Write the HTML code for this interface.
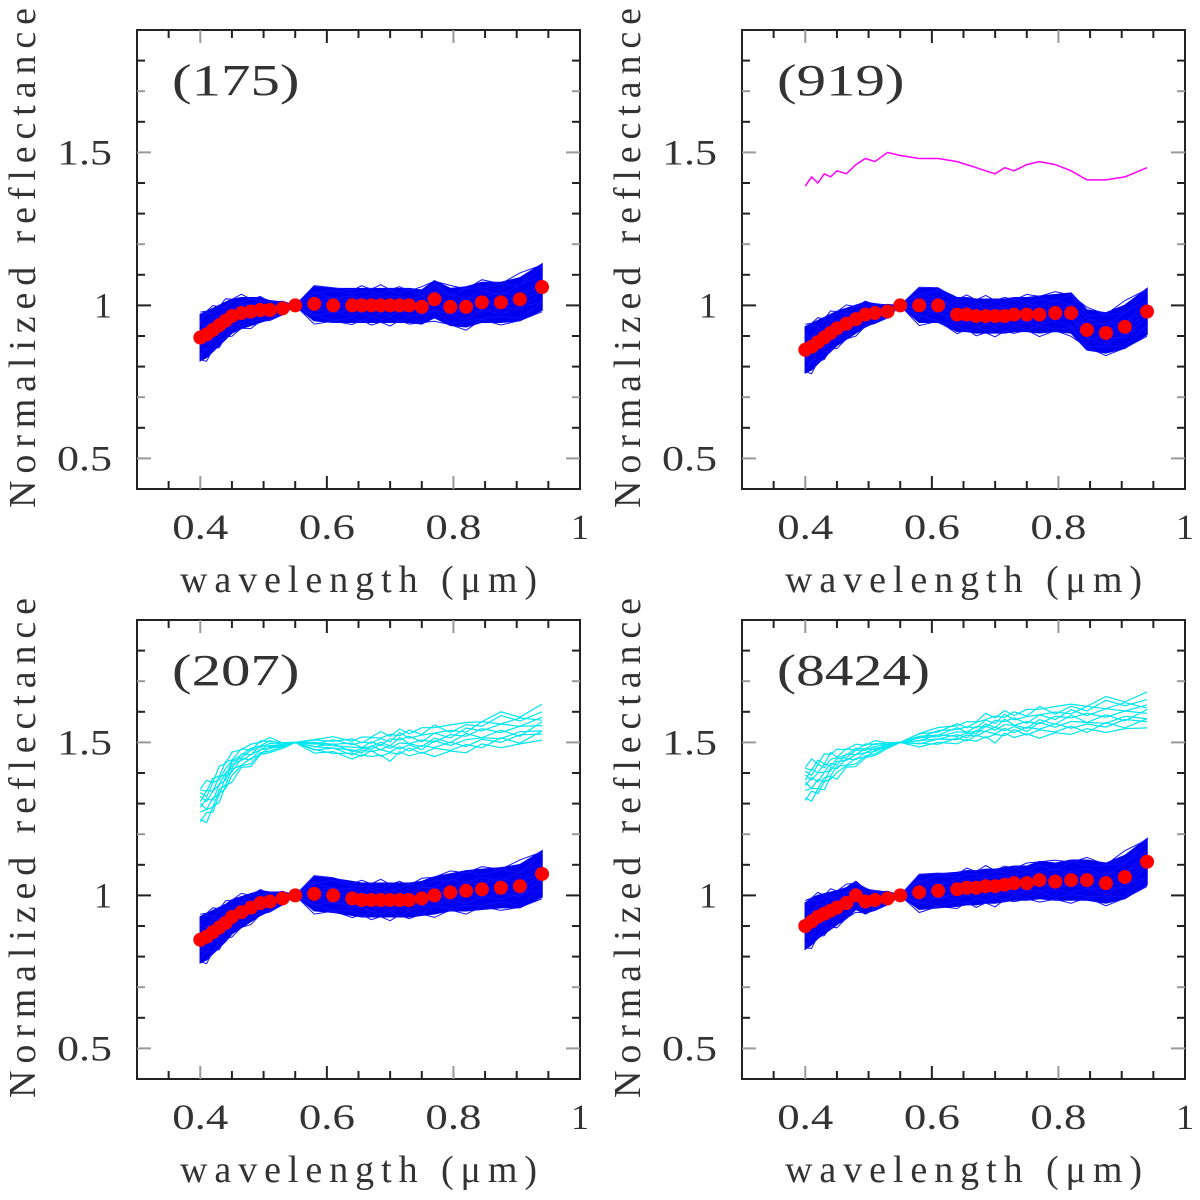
<!DOCTYPE html>
<html><head><meta charset="utf-8"><style>
html,body{margin:0;padding:0;background:#fff}
svg text{font-family:"Liberation Serif",serif;fill:#333}
</style></head><body>
<svg id="fig" width="1200" height="1195" viewBox="0 0 1200 1195" xmlns="http://www.w3.org/2000/svg"></svg>
<script>
const wavelengths=[0.40,0.41,0.42,0.43,0.44,0.45,0.465,0.48,0.495,0.51,0.53,0.55,0.58,0.61,0.64,0.655,0.67,0.685,0.70,0.715,0.73,0.75,0.77,0.795,0.82,0.845,0.875,0.905,0.94];
const mean175=[0.895,0.905,0.92,0.935,0.95,0.965,0.975,0.98,0.985,0.985,0.99,1.0,1.005,1.0,1.0,1.0,1.0,1.0,1.0,1.0,1.0,0.995,1.02,0.995,0.995,1.01,1.01,1.02,1.06];
const mean919=[0.855,0.865,0.88,0.895,0.91,0.925,0.94,0.955,0.97,0.975,0.98,1.0,1.0,1.0,0.97,0.97,0.965,0.965,0.965,0.965,0.97,0.97,0.97,0.975,0.975,0.92,0.91,0.93,0.98];
const mean207=[0.855,0.865,0.88,0.895,0.91,0.93,0.945,0.96,0.975,0.98,0.99,1.0,1.005,1.0,0.99,0.985,0.985,0.985,0.985,0.985,0.985,0.99,1.0,1.01,1.015,1.02,1.025,1.03,1.07];
const mean8424=[0.90,0.915,0.93,0.94,0.95,0.96,0.975,1.0,0.98,0.985,0.99,1.0,1.01,1.015,1.02,1.025,1.025,1.03,1.03,1.035,1.04,1.04,1.05,1.045,1.05,1.05,1.04,1.06,1.11];
const spread=[0.075,0.075,0.07,0.065,0.06,0.055,0.05,0.045,0.04,0.03,0.02,0.0,0.055,0.055,0.055,0.055,0.055,0.055,0.055,0.055,0.055,0.055,0.06,0.06,0.065,0.065,0.065,0.07,0.075];
const magenta919=[1.39,1.42,1.40,1.43,1.42,1.44,1.43,1.46,1.48,1.47,1.50,1.49,1.48,1.48,1.47,1.46,1.45,1.44,1.43,1.45,1.44,1.46,1.47,1.46,1.44,1.41,1.41,1.42,1.45];
const cyan207=[1.30,1.31,1.33,1.36,1.39,1.42,1.45,1.46,1.48,1.49,1.49,1.50,1.49,1.49,1.48,1.48,1.49,1.49,1.49,1.50,1.50,1.50,1.51,1.51,1.52,1.53,1.54,1.54,1.56];
const cyan8424=[1.37,1.38,1.39,1.40,1.42,1.43,1.45,1.46,1.47,1.48,1.49,1.50,1.51,1.52,1.53,1.53,1.54,1.55,1.55,1.56,1.56,1.56,1.57,1.57,1.58,1.58,1.59,1.59,1.60];
const cyanSpread=[0.06,0.06,0.055,0.05,0.045,0.04,0.035,0.03,0.025,0.02,0.01,0.0,0.02,0.025,0.03,0.03,0.03,0.035,0.04,0.04,0.04,0.04,0.045,0.045,0.045,0.05,0.05,0.05,0.05];
const lineOffsets=[-1,-0.75,-0.5,-0.3,-0.1,0.1,0.3,0.5,0.75,1];
const lineJitter=[0.3,-0.4,0.5,-0.2,0.6,-0.5,0.2,-0.6,0.4,-0.3,0.1,0,-0.5,0.4,-0.3,0.6,-0.4,0.2,-0.6,0.5,-0.2,0.4,-0.5,0.3,-0.4,0.6,-0.3,0.2,-0.1];
const xTicks=[0.4,0.6,0.8,1];
const xTickLabels=["0.4","0.6","0.8","1"];
const yTicks=[0.5,1,1.5];
const yTickLabels=["0.5","1","1.5"];
const panels=[
 {label:"(175)",dx:0,dy:0,mean:mean175,extra:null},
 {label:"(919)",dx:605,dy:0,mean:mean919,extra:"magenta"},
 {label:"(207)",dx:0,dy:590,mean:mean207,extra:"cyan207"},
 {label:"(8424)",dx:605,dy:590,mean:mean8424,extra:"cyan8424"}];
const NS="http://www.w3.org/2000/svg",svg=document.getElementById('fig');
function mk(t,a,p){const e=document.createElementNS(NS,t);for(const k in a)e.setAttribute(k,a[k]);(p||svg).appendChild(e);return e;}
panels.forEach((P,pi)=>{
 const g=mk('g',{});
 
 
 const L=137+P.dx,R=580+P.dx,T=30+P.dy,B=489+P.dy;
 const X=v=>L+(v-0.3)/0.7*(R-L), Y=v=>B-(v-0.4)/1.5*(B-T);
 const pts=arr=>arr.map((v,i)=>X(wavelengths[i]).toFixed(1)+','+Y(v).toFixed(1)).join(' ');
 const up=P.mean.map((v,i)=>v+spread[i]), lo=P.mean.map((v,i)=>v-spread[i]);
 const bandPts=wavelengths.map((w,i)=>X(w).toFixed(1)+','+Y(up[i]).toFixed(1)).concat(wavelengths.map((w,i)=>X(w).toFixed(1)+','+Y(lo[i]).toFixed(1)).reverse()).join(' ');
 const band=mk('polygon',{points:bandPts,fill:'#0000ee',stroke:'#0000ee','stroke-width':1.5},g);
 
 
 lineOffsets.forEach((o,li)=>{
  const arr=P.mean.map((v,i)=>v+spread[i]*(o*1.05+0.3*lineJitter[(i+li*3)%lineJitter.length]));
  const l=mk('polyline',{points:pts(arr),fill:'none',stroke:'#1010ff','stroke-width':1},g);
  
  
 });
 if(P.extra==='magenta'){
  const l=mk('polyline',{points:pts(magenta919),fill:'none',stroke:'#ff00ff','stroke-width':1.5},g);
  
  
 } else if(P.extra){
  const cm=P.extra==='cyan207'?cyan207:cyan8424;
  lineOffsets.forEach((o,li)=>{
   const arr=cm.map((v,i)=>v+cyanSpread[i]*(o+0.5*lineJitter[(i+li*5)%lineJitter.length]));
   const l=mk('polyline',{points:pts(arr),fill:'none',stroke:'#00e5ee','stroke-width':1.2},g);
   
   
  });
 }
 P.mean.forEach((v,i)=>{
  const c=mk('circle',{cx:X(wavelengths[i]),cy:Y(v),r:7,fill:'#ff0000'},g);
  
  
 });
 const fr=mk('rect',{x:L,y:T,width:R-L,height:B-T,fill:'none',stroke:'#222','stroke-width':2},g);
 
 
 for(let k=7;k<=19;k++){const v=k*0.05,xx=X(v),maj=k%4==0,len=maj?13:8,col=(k==8||k==16)?'#999':'#222';
  mk('line',{x1:xx,x2:xx,y1:B,y2:B-len,stroke:col,'stroke-width':2},g);
  mk('line',{x1:xx,x2:xx,y1:T,y2:T+len,stroke:col,'stroke-width':2},g);}
 for(let k=5;k<=18;k++){const v=k*0.1,yy=Y(v),maj=k%5==0,len=maj?14:8,col=(k==5||k==15||k==7||k==12||k==17)?'#999':'#222';
  mk('line',{x1:L,x2:L+len,y1:yy,y2:yy,stroke:col,'stroke-width':2},g);
  mk('line',{x1:R,x2:R-len,y1:yy,y2:yy,stroke:col,'stroke-width':2},g);}
 xTicks.forEach((v,i)=>{const a={x:X(v),y:B+50,'font-size':36,'text-anchor':'middle'};if(xTickLabels[i].length==3){a.textLength=56;a.lengthAdjust='spacingAndGlyphs';}
  const t=mk('text',a,g);t.textContent=xTickLabels[i];
  });
 yTicks.forEach((v,i)=>{const a={x:L-25,y:Y(v)+12,'font-size':36,'text-anchor':'end'};if(yTickLabels[i].length==3){a.textLength=55;a.lengthAdjust='spacingAndGlyphs';}
  const t=mk('text',a,g);t.textContent=yTickLabels[i];
  });
 const lb=mk('text',{x:L+35,y:T+65,'font-size':44,textLength:P.label.length*25.5,lengthAdjust:'spacingAndGlyphs'},g);lb.textContent=P.label;
 
 const xt=mk('text',{x:L+43,y:B+103,'font-size':38,textLength:357,lengthAdjust:'spacing'},g);xt.textContent="wavelength (\u03bcm)";
 
 const yt=mk('text',{x:0,y:0,'font-size':38,textLength:500,lengthAdjust:'spacing','text-anchor':'middle',transform:`translate(${L-102},${T+228}) rotate(-90)`},g);yt.textContent="Normalized reflectance";
 
});
</script>
</body></html>
